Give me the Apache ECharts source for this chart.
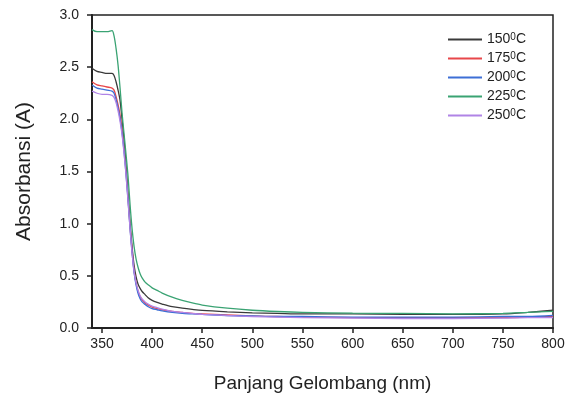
<!DOCTYPE html>
<html><head><meta charset="utf-8">
<script src="https://cdn.jsdelivr.net/npm/echarts@6/dist/echarts.min.js"></script>
<style>html,body{margin:0;padding:0;background:#fff}#c{width:579px;height:396px}</style>
</head><body><div id="c"></div>
<script>
var wavelengths = [340,345,350,355,360,362,364,366,368,370,372,374,376,378,380,382,384,386,388,390,393,396,400,405,410,420,430,440,450,475,500,525,550,600,650,700,750,775,800];
var s150 = [2.49,2.46,2.45,2.44,2.44,2.42,2.36,2.28,2.18,2.00,1.80,1.55,1.28,1.00,0.78,0.60,0.49,0.42,0.38,0.35,0.32,0.29,0.265,0.245,0.23,0.205,0.19,0.178,0.168,0.155,0.145,0.14,0.135,0.135,0.13,0.13,0.135,0.15,0.17];
var s175 = [2.36,2.33,2.32,2.31,2.30,2.28,2.22,2.14,2.04,1.90,1.72,1.50,1.24,0.97,0.74,0.55,0.43,0.35,0.30,0.27,0.24,0.22,0.20,0.185,0.175,0.16,0.15,0.14,0.135,0.125,0.115,0.11,0.105,0.10,0.10,0.10,0.10,0.105,0.11];
var s200 = [2.33,2.30,2.29,2.28,2.27,2.25,2.19,2.11,2.01,1.87,1.69,1.47,1.22,0.95,0.72,0.53,0.41,0.33,0.28,0.25,0.225,0.205,0.185,0.175,0.165,0.15,0.14,0.135,0.13,0.12,0.115,0.11,0.11,0.105,0.105,0.105,0.11,0.11,0.12];
var s225 = [2.86,2.84,2.84,2.84,2.85,2.80,2.68,2.52,2.30,2.06,1.86,1.66,1.45,1.18,0.95,0.78,0.66,0.58,0.52,0.48,0.44,0.415,0.385,0.36,0.335,0.295,0.265,0.24,0.22,0.19,0.17,0.158,0.15,0.142,0.14,0.135,0.14,0.15,0.16];
var s250 = [2.27,2.25,2.24,2.24,2.23,2.21,2.16,2.08,1.98,1.85,1.67,1.46,1.21,0.95,0.72,0.54,0.43,0.36,0.31,0.28,0.25,0.23,0.21,0.195,0.18,0.16,0.15,0.14,0.13,0.12,0.11,0.105,0.10,0.095,0.09,0.09,0.095,0.10,0.10];
var seriesNames = ['150','175','200','225','250'];
var xTicks = [350,400,450,500,550,600,650,700,750,800];
var colors = ['#3a3a3a','#e8474a','#3d6fd6','#3aa373','#b084e6'];
var all = [s150,s175,s200,s225,s250];

function pairs(v){ return wavelengths.map(function(w,i){return [w,v[i]];}); }
var chart = echarts.init(document.getElementById('c'), null, {renderer:'canvas'});
var font = 'Liberation Sans, Arial, sans-serif';
chart.setOption({
  animation:false,
  backgroundColor:'#fff',
  grid:{left:92,top:15,right:26,bottom:68,outerBoundsMode:'none',containLabel:false,show:true,borderColor:'#222',borderWidth:1.5,backgroundColor:'transparent'},
  legend:{
    orient:'vertical', left:442, top:27, itemWidth:34, itemHeight:10, itemGap:3,
    data:seriesNames,
    itemStyle:{opacity:0},
    formatter:function(n){return n+'{s|0}C';},
    textStyle:{fontFamily:font,fontSize:14,color:'#222',lineHeight:15,
      rich:{s:{fontSize:10,verticalAlign:'top',lineHeight:15,fontFamily:font,color:'#222',padding:[0,0,6,0]}}}
  },
  xAxis:{type:'value',min:340,max:800,
    name:'Panjang Gelombang (nm)',nameLocation:'middle',nameGap:46,
    nameTextStyle:{fontFamily:font,fontSize:19,color:'#222'},
    axisLine:{lineStyle:{color:'#222',width:2}},
    axisTick:{show:true,inside:false,length:5,customValues:xTicks,lineStyle:{color:'#222',width:1.5}},
    axisLabel:{customValues:xTicks,fontFamily:font,fontSize:14,color:'#222',margin:9},
    splitLine:{show:false}},
  yAxis:{type:'value',min:0,max:3,interval:0.5,
    name:'Absorbansi (A)',nameLocation:'middle',nameGap:57,nameRotate:90,
    nameTextStyle:{fontFamily:font,fontSize:21,color:'#222'},
    axisLine:{show:true,lineStyle:{color:'#222',width:2}},
    axisTick:{show:true,length:5,lineStyle:{color:'#222',width:1.5}},
    axisLabel:{fontFamily:font,fontSize:14,color:'#222',margin:13,formatter:function(v){return v.toFixed(1);}},
    splitLine:{show:false}},
  series: seriesNames.map(function(n,i){
    return {name:n,type:'line',data:pairs(all[i]),symbol:'none',smooth:0.3,
      lineStyle:{color:colors[i],width:1.3},itemStyle:{color:colors[i]},z:(i===3?3:2)};
  })
});
</script></body></html>
